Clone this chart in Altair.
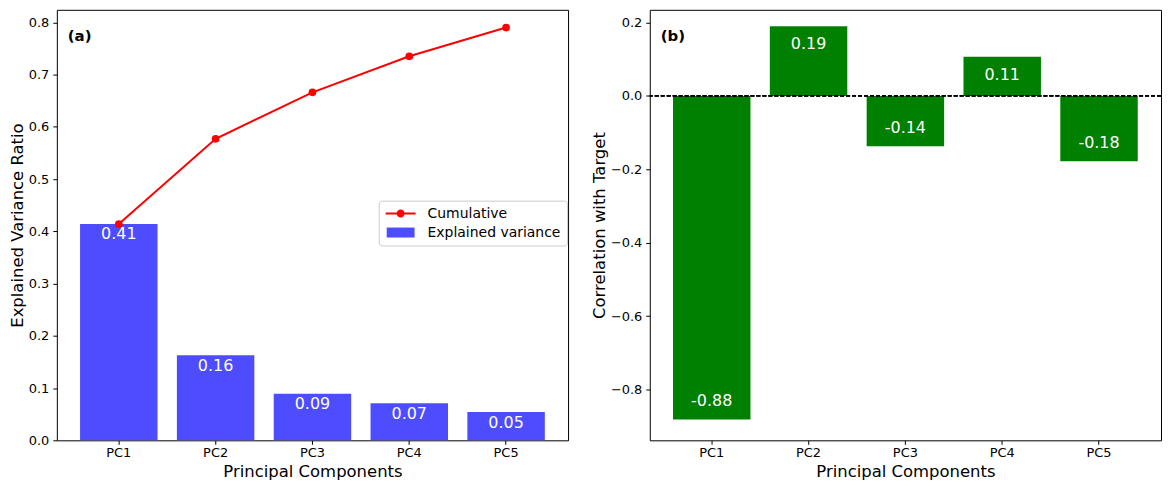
import altair as alt
import pandas as pd

# ---------------- data ----------------
components = ["PC1", "PC2", "PC3", "PC4", "PC5"]
explained = [0.414, 0.163, 0.089, 0.071, 0.054]
cumulative = [0.414, 0.577, 0.666, 0.735, 0.790]
correlation = [-0.881, 0.190, -0.137, 0.107, -0.178]
ticks_a = [0.0, 0.1, 0.2, 0.3, 0.4, 0.5, 0.6, 0.7, 0.8]
ticks_b = [-0.8, -0.6, -0.4, -0.2, 0.0, 0.2]
legend_names = ["Cumulative", "Explained variance"]

FONT = "DejaVu Sans"
BLUE = "#4d4dff"
RED = "#ff0000"
GREEN = "#008000"

df_a = pd.DataFrame({"pc": components, "explained": explained, "cumulative": cumulative})
df_a["label"] = [f"{v:.2f}" for v in explained]
df_a["label_y"] = [v - 0.02 for v in explained]

df_b = pd.DataFrame({"pc": components, "corr": correlation})
df_b["label"] = [f"{v:.2f}" for v in correlation]
df_b["label_y"] = [v - 0.05 if v > 0 else v + 0.05 for v in correlation]

df_leg = pd.DataFrame({"series": legend_names, "pc": [components[0]] * 2,
                       "y": [explained[0] / 2] * 2})

W, H = 513, 432
xscale = alt.Scale(domain=components, paddingInner=0.2, paddingOuter=0.24)
ya_scale = alt.Scale(domain=[0, 0.824], nice=False, zero=False)
yb_scale = alt.Scale(domain=[-0.938, 0.2345], nice=False, zero=False)
MINUS_EXPR = "replace(datum.label, '-', '\u2212')"

x_a = alt.X("pc:N", scale=xscale, sort=components, title="Principal Components",
            axis=alt.Axis(labelAngle=0))
ya_title = "Explained Variance Ratio"
ya_axis = alt.Axis(values=ticks_a, format=".1f")

# legend symbols (custom paths): line with marker, and filled patch
line_sym = ("M-2.5,-0.167H2.5V0.167H-2.5Z"
            "M0.667,0A0.667,0.667 0 1,1 -0.667,0A0.667,0.667 0 1,1 0.667,0Z")
patch_sym = "M-2.33,-0.833H2.33V0.833H-2.33Z"

leg = alt.Legend(orient="none", legendX=323, legendY=191.5, title=None,
                 strokeColor="#cccccc", fillColor="white", cornerRadius=3,
                 padding=6, rowPadding=5, symbolSize=144, symbolOffset=9,
                 labelOffset=20, symbolStrokeWidth=0, labelFontSize=14,
                 labelFont=FONT, labelColor="black")

legend_layer = alt.Chart(df_leg).mark_point(filled=True, size=144, opacity=1).encode(
    x=x_a,
    y=alt.Y("y:Q", scale=ya_scale, title=ya_title, axis=ya_axis),
    color=alt.Color("series:N", scale=alt.Scale(domain=legend_names, range=[RED, BLUE]), legend=leg),
    shape=alt.Shape("series:N", scale=alt.Scale(domain=legend_names, range=[line_sym, patch_sym]), legend=leg),
)

bars_a = alt.Chart(df_a).mark_bar(color=BLUE).encode(
    x=x_a,
    y=alt.Y("explained:Q", scale=ya_scale, title=ya_title, axis=ya_axis),
)
labels_a = alt.Chart(df_a).mark_text(color="white", fontSize=16, font=FONT, baseline="middle").encode(
    x=x_a,
    y=alt.Y("label_y:Q", scale=ya_scale, title=ya_title),
    text="label:N",
)
line_a = alt.Chart(df_a).mark_line(color=RED, strokeWidth=2).encode(
    x=x_a,
    y=alt.Y("cumulative:Q", scale=ya_scale, title=ya_title),
)
pts_a = alt.Chart(df_a).mark_point(filled=True, color=RED, size=60, opacity=1).encode(
    x=x_a,
    y=alt.Y("cumulative:Q", scale=ya_scale, title=ya_title),
)
tag_a = alt.Chart(pd.DataFrame({"t": ["(a)"]})).mark_text(
    fontSize=15, fontWeight="bold", font=FONT, align="left", baseline="middle", color="black"
).encode(x=alt.value(11), y=alt.value(26), text="t:N")

panel_a = alt.layer(legend_layer, bars_a, labels_a, line_a, pts_a, tag_a).properties(width=W, height=H)

x_b = alt.X("pc:N", scale=xscale, sort=components, title="Principal Components",
            axis=alt.Axis(labelAngle=0))
yb_title = "Correlation with Target"
yb_axis = alt.Axis(values=ticks_b, format=".1f", labelExpr=MINUS_EXPR)

bars_b = alt.Chart(df_b).mark_bar(color=GREEN).encode(
    x=x_b,
    y=alt.Y("corr:Q", scale=yb_scale, title=yb_title, axis=yb_axis),
)
labels_b = alt.Chart(df_b).mark_text(color="white", fontSize=16, font=FONT, baseline="middle").encode(
    x=x_b,
    y=alt.Y("label_y:Q", scale=yb_scale, title=yb_title),
    text="label:N",
)
zero_b = alt.Chart(df_b).mark_rule(color="black", strokeWidth=1, strokeDash=[4, 2]).encode(
    y=alt.datum(0, scale=yb_scale, title=yb_title),
)
tag_b = alt.Chart(pd.DataFrame({"t": ["(b)"]})).mark_text(
    fontSize=15, fontWeight="bold", font=FONT, align="left", baseline="middle", color="black"
).encode(x=alt.value(11), y=alt.value(26), text="t:N")

panel_b = alt.layer(bars_b, labels_b, zero_b, tag_b).properties(width=W, height=H)

chart = alt.hconcat(panel_a, panel_b, spacing=21).resolve_scale(
    y="independent", color="independent", shape="independent"
).resolve_legend(color="independent", shape="independent").properties(
    padding={"left": 0, "top": 0, "right": 0, "bottom": 0}
).configure_view(
    stroke="black", strokeWidth=1
).configure_axis(
    labelFont=FONT, titleFont=FONT, labelFontSize=13, titleFontSize=16.5,
    titleFontWeight="normal", labelColor="black", titleColor="black",
    tickColor="black", tickSize=4, domain=False, grid=False,
).configure_axisX(
    labelPadding=2, titlePadding=4,
).configure_axisY(
    labelPadding=4, titlePadding=3,
)

chart.save("out.html", embed_options={"renderer": "svg", "actions": False})
